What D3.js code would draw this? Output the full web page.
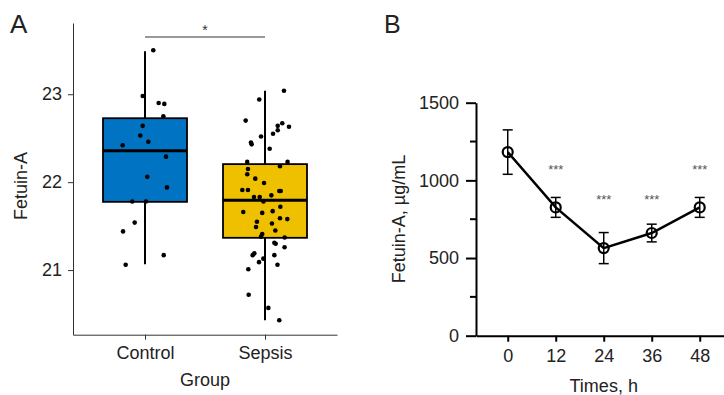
<!DOCTYPE html>
<html>
<head>
<meta charset="utf-8">
<script src="https://cdn.jsdelivr.net/npm/d3@7"></script>
<style>
  body { margin: 0; background: #fff; }
  svg { display: block; font-family: "Liberation Sans", Arial, sans-serif; }
</style>
</head>
<body>
<svg class="chart"></svg>
<script>
// ---- panel A data: boxplot with jittered points
var groups = ["Control", "Sepsis"];
var groupColors = ["#0073C2", "#EFC000"];
var controlValues = [23.50, 22.98, 22.90, 22.89, 22.75, 22.64, 22.53, 22.46, 22.42, 22.29,
  22.06, 21.94, 21.78, 21.78, 21.54, 21.44, 21.17, 21.06];
var sepsisValues = [23.04, 22.94, 22.70, 22.67, 22.64, 22.63, 22.59, 22.55, 22.52, 22.45,
  22.43, 22.38, 22.23, 22.23, 22.18, 22.15, 22.09, 22.04, 21.99, 21.91,
  21.91, 21.90, 21.90, 21.83, 21.83, 21.85, 21.78, 21.66, 21.65, 21.67,
  21.72, 21.59, 21.58, 21.55, 21.53, 21.49, 21.45, 21.41, 21.38, 21.37,
  21.31, 21.30, 21.26, 21.19, 21.17, 21.13, 21.09, 21.17, 21.06, 21.01,
  20.72, 20.57, 20.43];
// horizontal jitter, in units of category step
var controlJitter = [0.069, -0.019, 0.114, 0.161, 0.153, -0.019, -0.039, 0.028, -0.186, 0.175,
  0.019, 0.183, -0.106, 0.008, -0.086, -0.183, 0.156, -0.161];
var sepsisJitter = [0.158, -0.048, -0.161, 0.144, 0.106, 0.2, 0.106, 0.067, -0.033, -0.117,
  -0.111, 0.039, -0.148, 0.188, 0.125, -0.142, -0.148, -0.081, -0.008, -0.189,
  -0.142, 0.119, 0.131, -0.092, -0.044, 0.053, -0.013, -0.181, -0.023, 0.064,
  0.128, 0.125, 0.186, -0.067, 0.058, -0.075, 0.086, -0.023, -0.033, 0.164,
  0.078, 0.089, 0.163, -0.089, -0.103, -0.014, -0.05, 0.078, 0.104, -0.139,
  -0.136, 0.028, 0.119];
var whiskerLow = [21.065, 20.43];
var q1 = [21.776, 21.367];
var medians = [22.356, 21.795];
var q3 = [22.727, 22.205];
var whiskerHigh = [23.49, 23.04];
var ticksA = [21, 22, 23];

// ---- panel B data: mean +/- error over time
var times = [0, 12, 24, 36, 48];
var means = [1182, 826, 564, 661, 826];
var errors = [143, 64, 100, 57, 64];
var stars = ["", "***", "***", "***", "***"];
var starLevel = [null, 1090, 900, 900, 1090];
var ticksB = [0, 500, 1000, 1500];
var minorTicksB = [250, 750, 1250];

var W = 724, H = 395;
var svg = d3.select(".chart").attr("width", W).attr("height", H);
var fmt = d3.format("d");

// ================= panel A =================
var xA = d3.scalePoint().domain(groups).range([73, 337]).padding(0.6);
var yA = d3.scaleLinear().domain([20.265, 23.81]).range([334.7, 23]);
var step = xA.step();
var boxW = step * 0.7;

var gA = svg.append("g");

var yAxisA = gA.append("g")
    .attr("transform", "translate(73,0)")
    .call(d3.axisLeft(yA).tickValues(ticksA).tickFormat(fmt).tickSize(5).tickPadding(6).tickSizeOuter(0));
var xAxisA = gA.append("g")
    .attr("transform", "translate(0,334.7)")
    .call(d3.axisBottom(xA).tickSize(5).tickPadding(7).tickSizeOuter(0));
[yAxisA, xAxisA].forEach(function(a) {
  a.selectAll("path, line").attr("stroke", "#333").attr("stroke-width", 1);
  a.selectAll("text").attr("fill", "#222").style("font-size", "18px");
});

gA.append("text").attr("x", 205).attr("y", 386).attr("text-anchor", "middle")
  .attr("fill", "#222").style("font-size", "18px").text("Group");
gA.append("text").attr("transform", "translate(27,186) rotate(-90)").attr("text-anchor", "middle")
  .attr("fill", "#222").style("font-size", "18px").text("Fetuin-A");
svg.append("text").attr("x", 10).attr("y", 33).attr("fill", "#222")
  .style("font-size", "26px").text("A");

var boxes = groups.map(function(g, i) {
  return { g: g, lo: whiskerLow[i], q1: q1[i], med: medians[i], q3: q3[i], hi: whiskerHigh[i], color: groupColors[i] };
});

var box = gA.selectAll(".box").data(boxes).enter().append("g").attr("class", "box");
box.append("line")
  .attr("x1", function(d) { return xA(d.g); }).attr("x2", function(d) { return xA(d.g); })
  .attr("y1", function(d) { return yA(d.lo); }).attr("y2", function(d) { return yA(d.hi); })
  .attr("stroke", "#000").attr("stroke-width", 2);
box.append("rect")
  .attr("x", function(d) { return xA(d.g) - boxW / 2; })
  .attr("width", boxW)
  .attr("y", function(d) { return yA(d.q3); })
  .attr("height", function(d) { return yA(d.q1) - yA(d.q3); })
  .attr("fill", function(d) { return d.color; })
  .attr("stroke", "#000").attr("stroke-width", 1.8);
box.append("line")
  .attr("x1", function(d) { return xA(d.g) - boxW / 2; }).attr("x2", function(d) { return xA(d.g) + boxW / 2; })
  .attr("y1", function(d) { return yA(d.med); }).attr("y2", function(d) { return yA(d.med); })
  .attr("stroke", "#000").attr("stroke-width", 3);

var points = [];
controlValues.forEach(function(v, i) { points.push({ g: "Control", v: v, j: controlJitter[i] }); });
sepsisValues.forEach(function(v, i) { points.push({ g: "Sepsis", v: v, j: sepsisJitter[i] }); });

gA.selectAll(".pt").data(points).enter().append("circle").attr("class", "pt")
  .attr("cx", function(d) { return xA(d.g) + d.j * step; })
  .attr("cy", function(d) { return yA(d.v); })
  .attr("r", 2.3).attr("fill", "#000");

// significance bracket
gA.append("line")
  .attr("x1", xA("Control")).attr("x2", xA("Sepsis"))
  .attr("y1", 37).attr("y2", 37).attr("stroke", "#333").attr("stroke-width", 1);
gA.append("text").attr("x", (xA("Control") + xA("Sepsis")) / 2).attr("y", 35)
  .attr("text-anchor", "middle").attr("fill", "#333").style("font-size", "14px").text("*");

// ================= panel B =================
var xB = d3.scaleLinear().domain([-7.93, 54.07]).range([476, 724]);
var yB = d3.scaleLinear().domain([0, 1500]).range([335.7, 102.7]);
var gB = svg.append("g");

var yAxisB = gB.append("g").attr("transform", "translate(476,0)")
  .call(d3.axisLeft(yB).tickValues(ticksB).tickFormat(fmt).tickSize(10).tickPadding(7).tickSizeOuter(0));
var xAxisB = gB.append("g").attr("transform", "translate(0,335.7)")
  .call(d3.axisBottom(xB).tickValues(times).tickFormat(fmt).tickSize(6).tickPadding(8).tickSizeOuter(0));
[yAxisB, xAxisB].forEach(function(a) {
  a.selectAll("path, line").attr("stroke", "#000").attr("stroke-width", 2);
  a.selectAll("text").attr("fill", "#222").style("font-size", "18px");
});
gB.selectAll(".minor").data(minorTicksB).enter().append("line").attr("class", "minor")
  .attr("x1", 470).attr("x2", 476)
  .attr("y1", function(d) { return yB(d); }).attr("y2", function(d) { return yB(d); })
  .attr("stroke", "#000").attr("stroke-width", 2);

gB.append("text").attr("x", xB(24)).attr("y", 392).attr("text-anchor", "middle")
  .attr("fill", "#222").style("font-size", "18px").text("Times, h");
gB.append("text").attr("transform", "translate(405,219) rotate(-90)").attr("text-anchor", "middle")
  .attr("fill", "#222").style("font-size", "18px").text("Fetuin-A, µg/mL");
svg.append("text").attr("x", 384).attr("y", 33).attr("fill", "#222")
  .style("font-size", "25px").text("B");

var series = times.map(function(t, i) {
  return { t: t, m: means[i], e: errors[i], s: stars[i], sl: starLevel[i] };
});

var eb = gB.selectAll(".eb").data(series).enter().append("g").attr("class", "eb");
eb.append("line")
  .attr("x1", function(d) { return xB(d.t); }).attr("x2", function(d) { return xB(d.t); })
  .attr("y1", function(d) { return yB(d.m - d.e); }).attr("y2", function(d) { return yB(d.m + d.e); })
  .attr("stroke", "#000").attr("stroke-width", 1.5);
[-1, 1].forEach(function(sign) {
  eb.append("line")
    .attr("x1", function(d) { return xB(d.t) - 5; }).attr("x2", function(d) { return xB(d.t) + 5; })
    .attr("y1", function(d) { return yB(d.m + sign * d.e); }).attr("y2", function(d) { return yB(d.m + sign * d.e); })
    .attr("stroke", "#000").attr("stroke-width", 1.5);
});

gB.append("path").datum(series)
  .attr("d", d3.line().x(function(d) { return xB(d.t); }).y(function(d) { return yB(d.m); }))
  .attr("fill", "none").attr("stroke", "#000").attr("stroke-width", 2.5);

gB.selectAll(".mk").data(series).enter().append("circle").attr("class", "mk")
  .attr("cx", function(d) { return xB(d.t); }).attr("cy", function(d) { return yB(d.m); })
  .attr("r", 5).attr("fill", "none").attr("stroke", "#000").attr("stroke-width", 2.2);

gB.selectAll(".star").data(series.filter(function(d) { return d.s; })).enter().append("text")
  .attr("class", "star")
  .attr("x", function(d) { return xB(d.t); })
  .attr("y", function(d) { return yB(d.sl) + 8; })
  .attr("text-anchor", "middle").attr("fill", "#555").style("font-size", "13px")
  .text(function(d) { return d.s; });
</script>
</body>
</html>
